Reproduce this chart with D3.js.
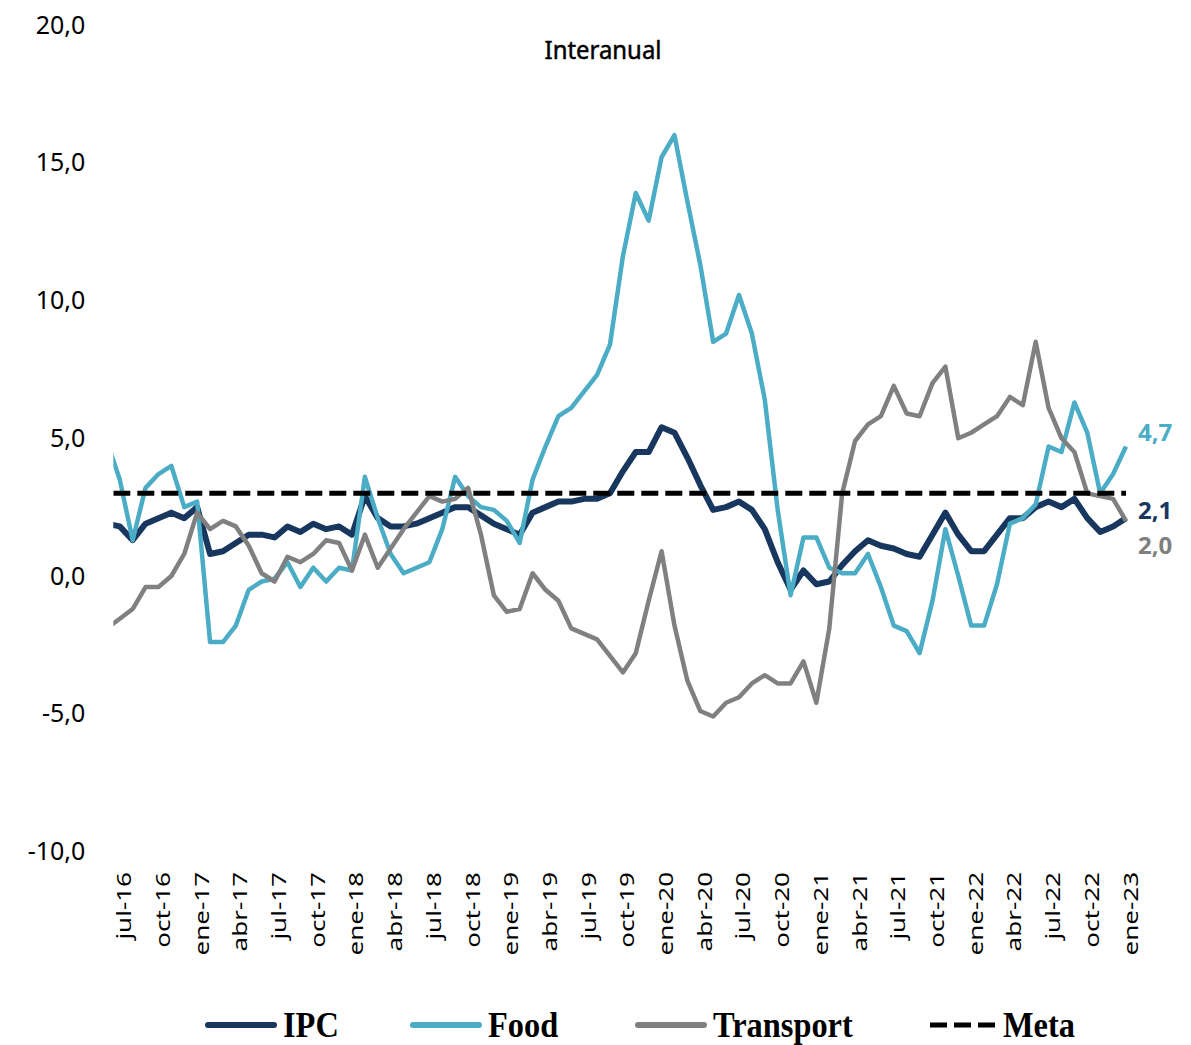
<!DOCTYPE html>
<html>
<head>
<meta charset="utf-8">
<script src="https://cdn.jsdelivr.net/npm/d3@7"></script>
<style>
  body { margin: 0; background: #fff; }
  svg { display: block; }
</style>
</head>
<body>
<div id="chart"></div>
<script>
// monthly series, jun-16 .. ene-23 (first point sits just left of the plot and is clipped)
const ipc = [1.9, 1.8, 1.3, 1.9, 2.1, 2.3, 2.1,
  2.5, 0.8, 0.9, 1.2, 1.5, 1.5, 1.4, 1.8, 1.6, 1.9, 1.7, 1.8,
  1.5, 2.9, 2.1, 1.8, 1.8, 1.9, 2.1, 2.3, 2.5, 2.5, 2.2, 1.9,
  1.7, 1.5, 2.3, 2.5, 2.7, 2.7, 2.8, 2.8, 3.0, 3.8, 4.5, 4.5,
  5.4, 5.2, 4.3, 3.3, 2.4, 2.5, 2.7, 2.4, 1.7, 0.5, -0.5, 0.2,
  -0.3, -0.2, 0.4, 0.9, 1.3, 1.1, 1.0, 0.8, 0.7, 1.5, 2.3, 1.5,
  0.9, 0.9, 1.5, 2.1, 2.1, 2.5, 2.7, 2.5, 2.8, 2.1, 1.6, 1.8,
  2.1];

const food = [4.9, 3.5, 1.3, 3.2, 3.7, 4.0, 2.5,
  2.7, -2.4, -2.4, -1.8, -0.5, -0.2, -0.1, 0.5, -0.4, 0.3, -0.2, 0.3,
  0.2, 3.6, 2.1, 0.8, 0.1, 0.3, 0.5, 1.7, 3.6, 2.9, 2.5, 2.4,
  2.0, 1.2, 3.5, 4.7, 5.8, 6.1, 6.7, 7.3, 8.4, 11.6, 13.9, 12.9,
  15.2, 16.0, 13.6, 11.3, 8.5, 8.8, 10.2, 8.8, 6.4, 2.4, -0.7, 1.4,
  1.4, 0.3, 0.1, 0.1, 0.8, -0.4, -1.8, -2.0, -2.8, -0.9, 1.7, 0.0,
  -1.8, -1.8, -0.3, 1.9, 2.1, 2.6, 4.7, 4.5, 6.3, 5.2, 3.0, 3.7,
  4.7];

const transport = [-1.9, -1.55, -1.2, -0.4, -0.4, 0.0, 0.8,
  2.3, 1.7, 2.0, 1.8, 1.1, 0.1, -0.2, 0.7, 0.5, 0.8, 1.3, 1.2,
  0.2, 1.5, 0.3, 1.0, 1.7, 2.3, 2.9, 2.7, 2.8, 3.2, 1.5, -0.7,
  -1.3, -1.2, 0.1, -0.5, -0.9, -1.9, -2.1, -2.3, -2.9, -3.5, -2.8, -0.9,
  0.9, -1.8, -3.8, -4.9, -5.1, -4.6, -4.4, -3.9, -3.6, -3.9, -3.9, -3.1,
  -4.6, -1.9, 3.0, 4.9, 5.5, 5.8, 6.9, 5.9, 5.8, 7.0, 7.6, 5.0,
  5.2, 5.5, 5.8, 6.5, 6.2, 8.5, 6.1, 5.0, 4.5, 3.0, 2.9, 2.8,
  2.0];

const meta = 3.0;

const tickLabels = ['jul-16', 'oct-16', 'ene-17', 'abr-17', 'jul-17', 'oct-17',
  'ene-18', 'abr-18', 'jul-18', 'oct-18', 'ene-19', 'abr-19', 'jul-19', 'oct-19',
  'ene-20', 'abr-20', 'jul-20', 'oct-20', 'ene-21', 'abr-21', 'jul-21', 'oct-21',
  'ene-22', 'abr-22', 'jul-22', 'oct-22', 'ene-23'];

const yTicks = [-10, -5, 0, 5, 10, 15, 20];

const series = [
  {name: 'IPC', values: ipc, color: '#17375e', width: 6},
  {name: 'Food', values: food, color: '#4bacc6', width: 4.5},
  {name: 'Transport', values: transport, color: '#808080', width: 4.5}
];

let width = 1191, height = 1045;
let n = ipc.length;

let x = d3.scaleLinear().domain([0.5, n - 1]).range([113.3, 1126]);
let y = d3.scaleLinear().domain([-10, 20]).range([851.5, 25]);

let locale = d3.formatLocale({decimal: ',', thousands: '.', grouping: [3], currency: ['', ''], minus: '-'});
let fmt = locale.format('.1f');

let svg = d3.select('#chart').append('svg')
  .attr('width', width).attr('height', height);

svg.append('rect').attr('width', width).attr('height', height).attr('fill', '#fff');

svg.append('defs').append('clipPath').attr('id', 'plot')
  .append('rect')
  .attr('x', x(0.5)).attr('y', 0)
  .attr('width', 1135 - x(0.5)).attr('height', height);

/*
 * axes
 */

let yAxis = svg.append('g')
  .attr('transform', 'translate(' + x(0.5) + ',0)')
  .call(d3.axisLeft(y).tickValues(yTicks).tickFormat(fmt).tickSize(0).tickPadding(28));
yAxis.select('.domain').remove();
yAxis.selectAll('text')
  .attr('font-family', '"Noto Sans", sans-serif')
  .attr('font-size', 25)
  .attr('fill', '#000');

let xAxis = svg.append('g')
  .attr('transform', 'translate(0,872)')
  .call(d3.axisBottom(x)
    .tickValues(d3.range(1, n, 3))
    .tickFormat((d, i) => tickLabels[i])
    .tickSize(0));
xAxis.select('.domain').remove();
xAxis.selectAll('text')
  .attr('x', 0).attr('y', 0).attr('dy', '0.35em')
  .attr('text-anchor', 'end')
  .attr('transform', 'translate(4,0) rotate(-90) scale(1.3,1)')
  .attr('font-family', '"Noto Sans", sans-serif')
  .attr('font-size', 20)
  .attr('fill', '#000');

/*
 * lines
 */

let line = d3.line()
  .x((d, i) => x(i))
  .y(d => y(d));

let g = svg.append('g').attr('clip-path', 'url(#plot)');

g.selectAll('.series')
  .data(series)
  .enter().append('path')
  .attr('class', 'series')
  .attr('d', d => line(d.values))
  .attr('fill', 'none')
  .attr('stroke', d => d.color)
  .attr('stroke-width', d => d.width)
  .attr('stroke-linejoin', 'round');

g.append('line')
  .attr('x1', x(0.5)).attr('x2', x(n - 1))
  .attr('y1', y(meta)).attr('y2', y(meta))
  .attr('stroke', '#000')
  .attr('stroke-width', 5)
  .attr('stroke-dasharray', '17,7');

/*
 * end labels
 */

let ends = [
  {text: fmt(food[n - 1]), color: '#4bacc6', y: 433},
  {text: fmt(ipc[n - 1]), color: '#17375e', y: 511},
  {text: fmt(transport[n - 1]), color: '#7f7f7f', y: 546}
];

svg.selectAll('.endlabel')
  .data(ends)
  .enter().append('text')
  .attr('class', 'endlabel')
  .attr('x', 1138)
  .attr('y', d => d.y)
  .attr('dy', '0.35em')
  .attr('font-family', '"Noto Sans", sans-serif')
  .attr('font-weight', 'bold')
  .attr('font-size', 24)
  .attr('fill', d => d.color)
  .text(d => d.text);

// title
svg.append('text')
  .attr('transform', 'translate(603,59) scale(0.92,1)')
  .attr('text-anchor', 'middle')
  .attr('font-family', '"Noto Sans", sans-serif')
  .attr('font-size', 26)
  .attr('fill', '#000')
  .attr('stroke', '#000')
  .attr('stroke-width', 0.5)
  .text('Interanual');

/*
 * legend
 */

let legendItems = [
  {name: 'IPC', color: '#17375e', x: 205, dash: null},
  {name: 'Food', color: '#4bacc6', x: 410, dash: null},
  {name: 'Transport', color: '#808080', x: 635, dash: null},
  {name: 'Meta', color: '#000', x: 930, dash: '17,7'}
];

let legend = svg.append('g').attr('transform', 'translate(0,1025)');

let item = legend.selectAll('.item')
  .data(legendItems)
  .enter().append('g')
  .attr('class', 'item')
  .attr('transform', d => 'translate(' + d.x + ',0)');

item.append('line')
  .attr('x1', d => d.dash ? 0 : 3).attr('x2', d => d.dash ? 65 : 69)
  .attr('stroke', d => d.color)
  .attr('stroke-width', d => d.dash ? 5 : 6)
  .attr('stroke-linecap', d => d.dash ? 'butt' : 'round')
  .attr('stroke-dasharray', d => d.dash);

item.append('text')
  .attr('transform', d => 'translate(' + (d.dash ? 73 : 78) + ',12) scale(0.9,1)')
  .attr('font-family', '"Liberation Serif", serif')
  .attr('font-weight', 'bold')
  .attr('font-size', 36)
  .attr('fill', '#000')
  .text(d => d.name);
</script>
</body>
</html>
